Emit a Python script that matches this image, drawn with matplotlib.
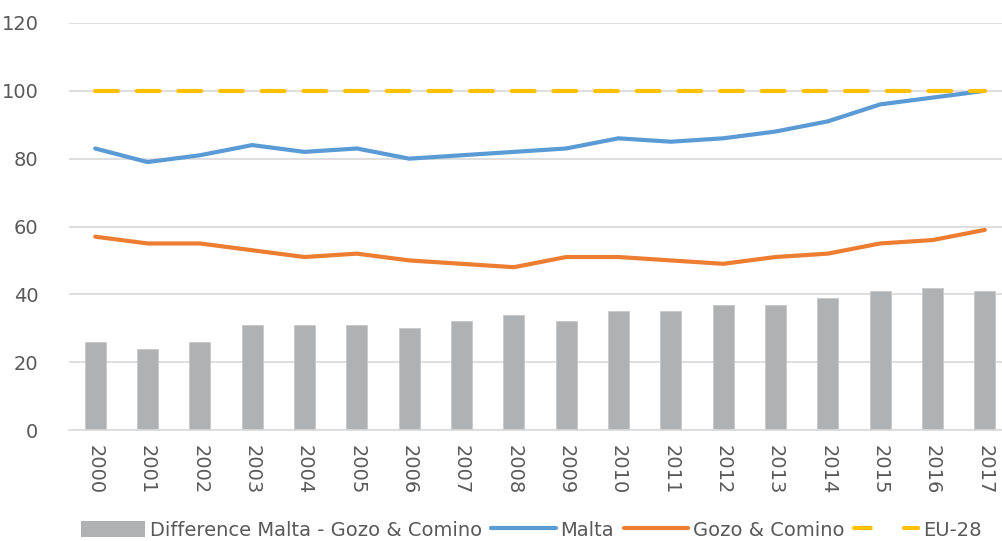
#!/usr/bin/env python3

import numpy as np
import matplotlib
matplotlib.use("Agg")
import matplotlib.pyplot as plt
from matplotlib.patches import Patch
from matplotlib.lines import Line2D


# ------------------------------------------------------------
# DATA
# ------------------------------------------------------------

years = [str(y) for y in range(2000, 2018)]
malta = [83, 79, 81, 84, 82, 83, 80, 81, 82, 83, 86, 85, 86, 88, 91, 96, 98, 100]
gozo = [57, 55, 55, 53, 51, 52, 50, 49, 48, 51, 51, 50, 49, 51, 52, 55, 56, 59]
difference = [26, 24, 26, 31, 31, 31, 30, 32, 34, 32, 35, 35, 37, 37, 39, 41, 42, 41]
eu28 = [100] * len(years)

labels = ["Difference Malta - Gozo & Comino", "Malta", "Gozo & Comino", "EU-28"]


# ------------------------------------------------------------
# STYLE
# ------------------------------------------------------------

TEXT = "#595959"
GRID = "#d9d9d9"
C_BAR = "#b0b1b2"
C_MALTA = "#5b9bd5"
C_GOZO = "#ed7d31"
C_EU = "#ffc000"


# ------------------------------------------------------------
# PLOT
# ------------------------------------------------------------

fig = plt.figure(figsize=(10.02, 5.41), dpi=100)
ax = fig.add_axes([69 / 1002, 1 - 430 / 541, 1 - 69 / 1002, (430 - 23) / 541])

x = np.arange(len(years))

ax.bar(x, difference, width=0.4, color=C_BAR, edgecolor="#c8c8c8",
       linewidth=0.6, zorder=2)
ax.plot(x, malta, color=C_MALTA, lw=3, solid_capstyle="round", zorder=3)
ax.plot(x, gozo, color=C_GOZO, lw=3, solid_capstyle="round", zorder=3)
ax.plot(x, eu28, color=C_EU, lw=3, dashes=(5.5, 4.5),
        dash_capstyle="round", zorder=4)

ax.set_ylim(0, 120)
ax.set_yticks(range(0, 121, 20))
ax.set_xlim(-0.5, 17.5 - 9 / 52.35)
ax.set_xticks(x)
ax.set_xticklabels(years, rotation=-90, ha="center", va="top")

ax.yaxis.grid(True, color=GRID, lw=1.2, zorder=0)
ax.set_axisbelow(True)
for s in ["top", "right", "left"]:
    ax.spines[s].set_visible(False)
ax.spines["bottom"].set_color(GRID)
ax.spines["bottom"].set_linewidth(1.2)

ax.tick_params(axis="both", length=0, labelsize=14, colors=TEXT)
ax.tick_params(axis="y", pad=22)
ax.tick_params(axis="x", pad=11)

handles = [
    Patch(facecolor=C_BAR, edgecolor="none"),
    Line2D([0], [0], color=C_MALTA, lw=3, solid_capstyle="round"),
    Line2D([0], [0], color=C_GOZO, lw=3, solid_capstyle="round"),
    Line2D([0], [0], color=C_EU, lw=3, dashes=(4, 8), dash_capstyle="round"),
]
fig.legend(handles, labels, loc="center", bbox_to_anchor=(0.53, 0.02),
           ncol=4, frameon=False, fontsize=14, labelcolor=TEXT,
           handlelength=3.3, handleheight=0.9, handletextpad=0.25,
           columnspacing=0.5)

fig.savefig("out.png", dpi=100)
plt.close(fig)
